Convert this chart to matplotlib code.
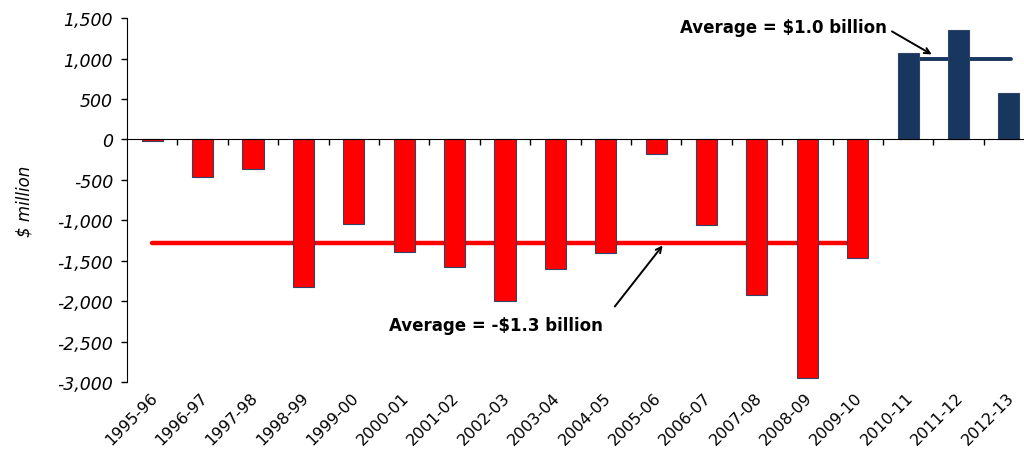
import matplotlib
matplotlib.use("Agg")
import matplotlib.pyplot as plt
from matplotlib.ticker import FuncFormatter, FixedLocator

categories = ["1995-96", "1996-97", "1997-98", "1998-99", "1999-00", "2000-01",
              "2001-02", "2002-03", "2003-04", "2004-05", "2005-06", "2006-07",
              "2007-08", "2008-09", "2009-10", "2010-11", "2011-12", "2012-13"]
values = [-20, -460, -370, -1820, -1050, -1390, -1575, -2000, -1600, -1410,
          -180, -1055, -1920, -2950, -1460, 1070, 1350, 580]
avg_neg = -1280
avg_pos = 1000
neg_span = (0, 13.9)
pos_span = (15, 17.05)

RED = "#FF0000"
NAVY = "#17375E"

fig = plt.figure(figsize=(10.24, 4.56), dpi=100)
ax = fig.add_axes([0.124, 0.16, 0.876, 0.798])

x = list(range(len(categories)))
colors = [RED if v < 0 else NAVY for v in values]

ax.plot(neg_span, [avg_neg, avg_neg], color=RED, lw=3.2, solid_capstyle="round", zorder=1)
ax.plot(pos_span, [avg_pos, avg_pos], color=NAVY, lw=2.8, solid_capstyle="round", zorder=1)
ax.bar(x, values, width=0.42, color=colors, edgecolor="#2F4468", linewidth=0.8, zorder=2)

ax.set_xlim(-0.5, 17.3)
ax.set_ylim(-3000, 1500)
ax.set_yticks(range(-3000, 1501, 500))
ax.yaxis.set_major_formatter(FuncFormatter(lambda v, p: f"{v:,.0f}"))
for lab in ax.get_yticklabels():
    lab.set_fontstyle("italic")
    lab.set_fontsize(12.5)
ax.tick_params(axis="y", direction="out", length=4, width=1, pad=6)

ax.spines["top"].set_visible(False)
ax.spines["right"].set_visible(False)
ax.spines["bottom"].set_position(("data", 0))
ax.spines["bottom"].set_zorder(3)
ax.xaxis.set_major_locator(FixedLocator([i + 0.5 for i in x]))
ax.xaxis.set_major_formatter(FuncFormatter(lambda v, p: ""))
ax.tick_params(axis="x", direction="out", length=4, width=1)

trans = ax.get_xaxis_transform()
for i, c in zip(x, categories):
    ax.text(i + 0.05, -0.035, c, transform=trans, rotation=45, ha="right",
            va="center", rotation_mode="anchor", fontsize=11.5, clip_on=False)

ax.set_ylabel("$ million", fontstyle="italic", fontsize=12, labelpad=17)

ax.text(8.94, -2300, "Average = -$1.3 billion", fontsize=12, fontweight="bold",
        ha="right", va="center")
ax.annotate("", xy=(10.13, -1311), xytext=(9.18, -2066),
            arrowprops=dict(arrowstyle="->", color="black", lw=1.4, shrinkA=0, shrinkB=0))
ax.text(14.58, 1385, "Average = $1.0 billion", fontsize=12, fontweight="bold",
        ha="right", va="center")
ax.annotate("", xy=(15.47, 1051), xytext=(14.68, 1336),
            arrowprops=dict(arrowstyle="->", color="black", lw=1.4, shrinkA=0, shrinkB=0))

fig.savefig("out.png", dpi=100)
